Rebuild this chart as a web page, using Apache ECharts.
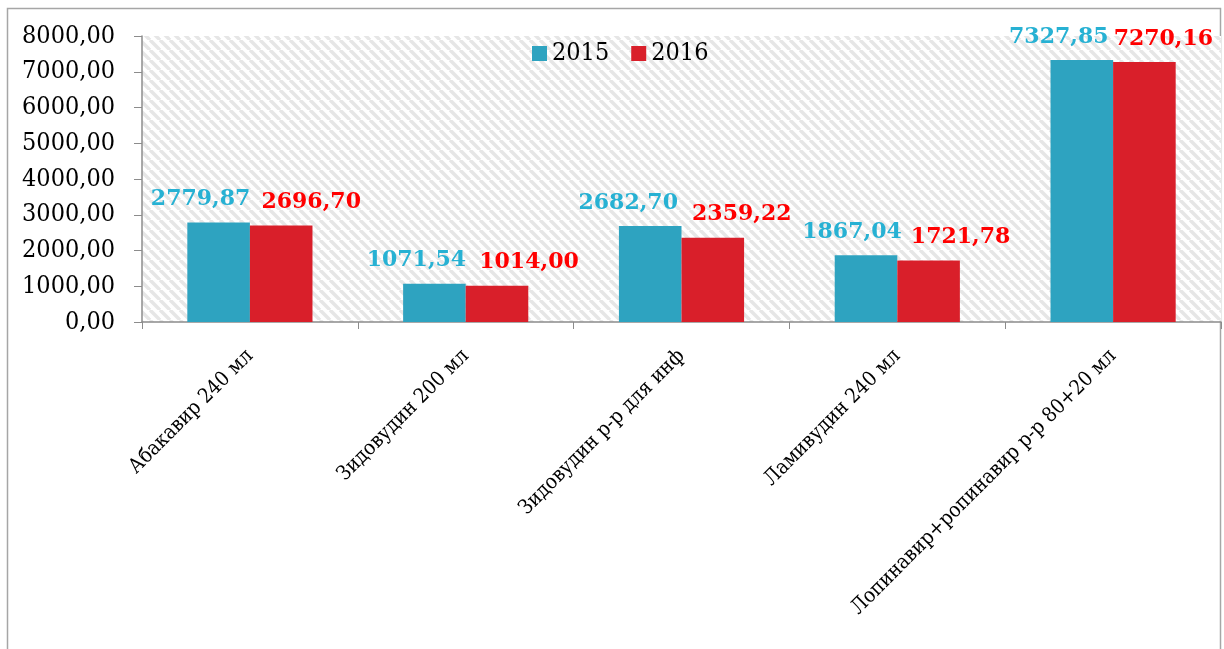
<!DOCTYPE html>
<html>
<head>
<meta charset="utf-8">
<script src="https://cdn.jsdelivr.net/npm/echarts@6/dist/echarts.min.js"></script>
<style>
  html, body { margin: 0; padding: 0; background: #fff; }
  #chart { width: 1224px; height: 649px; }
</style>
</head>
<body>
<div id="chart"></div>
<script>
const categories = [
  "Абакавир 240 мл",
  "Зидовудин 200 мл",
  "Зидовудин р-р для инф",
  "Ламивудин 240 мл",
  "Лопинавир+ропинавир р-р 80+20 мл",
];
const seriesNames = ["2015", "2016"];
const values2015 = [2779.87, 1071.54, 2682.7, 1867.04, 7327.85];
const values2016 = [2696.7, 1014.0, 2359.22, 1721.78, 7270.16];

// label shifts like in the source (last group is squeezed by the right edge)
const shift2015 = [-18, -18, -22, -14, -23];
const shift2016 = [30, 32, 29, 32, 19];

const fmt = (v) => v.toFixed(2).replace(".", ",");

// diagonal hatch for the plot background
const hatch = (() => {
  const s = 10;
  const c = document.createElement("canvas");
  c.width = s;
  c.height = s;
  const g = c.getContext("2d");
  g.fillStyle = "#ffffff";
  g.fillRect(0, 0, s, s);
  g.strokeStyle = "#e6e6e6";
  g.lineWidth = 3.5;
  for (const k of [-s, 0, s]) {
    g.beginPath();
    g.moveTo(k, 0);
    g.lineTo(k + s, s);
    g.stroke();
  }
  return c;
})();

const serif = "DejaVu Serif Condensed";
const serifBold = "DejaVu Serif";

const makeData = (vals, shifts) =>
  vals.map((v, i) => ({
    value: v,
    label: { offset: [shifts[i], -7] },
  }));

const chart = echarts.init(document.getElementById("chart"));

chart.setOption({
  animation: false,
  backgroundColor: "#ffffff",
  graphic: [
    {
      type: "rect",
      shape: { x: 7.5, y: 8.5, width: 1213, height: 700 },
      style: { fill: "none", stroke: "#a6a6a6", lineWidth: 1.5 },
      silent: true,
      z: -1,
    },
  ],
  grid: {
    left: 142,
    right: 3,
    top: 36,
    bottom: 327,
    show: true,
    borderWidth: 0,
    backgroundColor: { image: hatch, repeat: "repeat" },
  },
  legend: {
    data: seriesNames,
    left: 527,
    top: 36,
    icon: "rect",
    itemWidth: 15,
    itemHeight: 15,
    itemGap: 22,
    textStyle: { fontFamily: serif, fontSize: 25, color: "#000" },
  },
  xAxis: {
    type: "category",
    data: categories,
    axisLine: { lineStyle: { color: "#8c8c8c", width: 1.5 } },
    axisTick: { show: true, length: 7, lineStyle: { color: "#8c8c8c" } },
    axisLabel: {
      interval: 0,
      rotate: 45,
      margin: 31,
      fontFamily: serif,
      fontSize: 20.5,
      color: "#000",
    },
  },
  yAxis: {
    type: "value",
    min: 0,
    max: 8000,
    interval: 1000,
    axisLine: { show: true, lineStyle: { color: "#8c8c8c", width: 1.5 } },
    axisTick: { show: true, length: 8, lineStyle: { color: "#8c8c8c" } },
    splitLine: { show: false },
    axisLabel: {
      formatter: (v) => fmt(v),
      margin: 27,
      fontFamily: serif,
      fontSize: 25,
      color: "#000",
    },
  },
  series: [
    {
      name: seriesNames[0],
      type: "bar",
      data: makeData(values2015, shift2015),
      barGap: "0%",
      barCategoryGap: "42%",
      itemStyle: { color: "#2ea3c0" },
      label: {
        show: true,
        position: "top",
        formatter: (p) => fmt(p.value),
        fontFamily: serifBold,
        fontWeight: "bold",
        fontSize: 22,
        color: "#27b1d3",
      },
    },
    {
      name: seriesNames[1],
      type: "bar",
      data: makeData(values2016, shift2016),
      itemStyle: { color: "#d91f2a" },
      label: {
        show: true,
        position: "top",
        formatter: (p) => fmt(p.value),
        fontFamily: serifBold,
        fontWeight: "bold",
        fontSize: 22,
        color: "#ff0000",
      },
    },
  ],
});
</script>
</body>
</html>
